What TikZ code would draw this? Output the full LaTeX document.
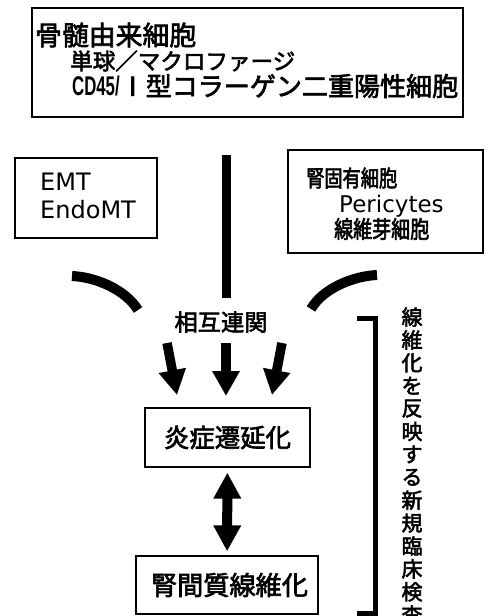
\documentclass[tikz,border=0pt]{standalone}
\usepackage{fontspec}
\setmainfont{Noto Sans CJK JP}[FakeBold=2.5]
\newfontfamily\condjp{Noto Sans CJK JP}[FakeStretch=0.8,FakeBold=2.5]
\newfontfamily\latinfont{DejaVu Sans}
\newfontfamily\cdfont{Liberation Sans}[FakeStretch=0.62]
\usetikzlibrary{arrows.meta}
\begin{document}
\begin{tikzpicture}[x=1pt,y=-1pt,
  box/.style={draw, line width=1.2pt, rectangle, inner sep=0pt},
  txt/.style={inner sep=0pt, anchor=west},
  btxt/.style={inner sep=0pt, anchor=base west},
  ctxt/.style={inner sep=0pt, anchor=center},
  fatline/.style={line width=9pt},
  curve/.style={line width=10pt},
  fatarrow/.style={line width=9.5pt, -{Triangle[width=26pt,length=25pt]}},
  dblarrow/.style={line width=10pt, {Triangle[width=26pt,length=26pt]}-{Triangle[width=26pt,length=26pt]}},
  bracket/.style={line width=5pt, line join=miter}]
\useasboundingbox (0,0) rectangle (485,616);

% boxes
\node[box, minimum width=431pt, minimum height=109pt] (topbox) at (247.5,62.5) {};
\node[box, minimum width=142pt, minimum height=80pt] (emtbox) at (86,198) {};
\node[box, minimum width=195pt, minimum height=103pt] (kidbox) at (385.5,201.5) {};
\node[box, minimum width=165pt, minimum height=59pt] (mid) at (227.5,437.5) {};
\node[box, minimum width=182pt, minimum height=58pt] (bot) at (227,585) {};

% top box text
\node[txt] (t1) at (35,35) {\resizebox{161pt}{!}{\fontsize{25}{25}\selectfont 骨髄由来細胞}};
\node[txt] (t2) at (70,61) {\resizebox{225pt}{!}{\fontsize{22}{22}\selectfont 単球／マクロファージ}};
\node[txt] (t3) at (72,86) {\resizebox{386pt}{!}{\fontsize{26}{26}\selectfont{\cdfont\bfseries\fontsize{27}{27}\selectfont CD45/}Ⅰ型コラーゲン二重陽性細胞}};

% EMT box
\node[btxt, font=\latinfont\fontsize{24}{24}\selectfont] (e1) at (40,190) {EMT};
\node[btxt, font=\latinfont\fontsize{24}{24}\selectfont] (e2) at (40,218) {EndoMT};

% kidney-own cells box
\node[txt] (k1) at (306,178) {\resizebox{91pt}{!}{\condjp\fontsize{23}{23}\selectfont 腎固有細胞}};
\node[btxt, font=\latinfont\fontsize{23}{23}\selectfont] (k2) at (339,212) {Pericytes};
\node[txt] (k3) at (334,229) {\resizebox{95pt}{!}{\condjp\fontsize{23}{23}\selectfont 線維芽細胞}};

% central line and curves
\coordinate (vtop) at (226,155);
\coordinate (vbot) at (226,298);
\draw[fatline] (vtop) -- (vbot);
\coordinate (lA) at (72,276);
\coordinate (lB) at (138,310);
\draw[curve] (lA) .. controls (95,277) and (125,289) .. (lB);
\coordinate (rA) at (377,275);
\coordinate (rB) at (311,309);
\draw[curve] (rA) .. controls (354,276) and (323,288) .. (rB);

% interaction label
\node[ctxt] (inter) at (221,322) {\resizebox{93pt}{!}{\fontsize{22}{22}\selectfont 相互連関}};

% three arrows
\coordinate (a1) at (167,343);
\coordinate (a1e) at (177,395);
\coordinate (a2) at (226,343);
\coordinate (a2e) at (226,396);
\coordinate (a3) at (282,343);
\coordinate (a3e) at (272,395);
\draw[fatarrow] (a1) -- (a1e);
\draw[fatarrow] (a2) -- (a2e);
\draw[fatarrow] (a3) -- (a3e);

% middle and bottom texts
\node[ctxt] (midtxt) at (mid) {\resizebox{127pt}{!}{\fontsize{25}{25}\selectfont 炎症遷延化}};
\node[ctxt] (bottxt) at (229.5,585) {\resizebox{157pt}{!}{\fontsize{25}{25}\selectfont 腎間質線維化}};

% double arrow
\draw[dblarrow, shorten <=5pt, shorten >=4pt] (mid) -- (bot);

% bracket
\coordinate (bA) at (357,318.5);
\coordinate (bC) at (375.5,613.5);
\coordinate (bD) at (357,613.5);
\draw[bracket] (bA) -| (bC) -- (bD);

% vertical text
\foreach \ch [count=\i from 0] in {線,維,化,を,反,映,す,る,新,規,臨,床,検,査} {
  \node[ctxt, font=\fontsize{21}{21}\selectfont] (v\i) at (412,317+22.9*\i) {\ch};
}
\end{tikzpicture}
\end{document}
